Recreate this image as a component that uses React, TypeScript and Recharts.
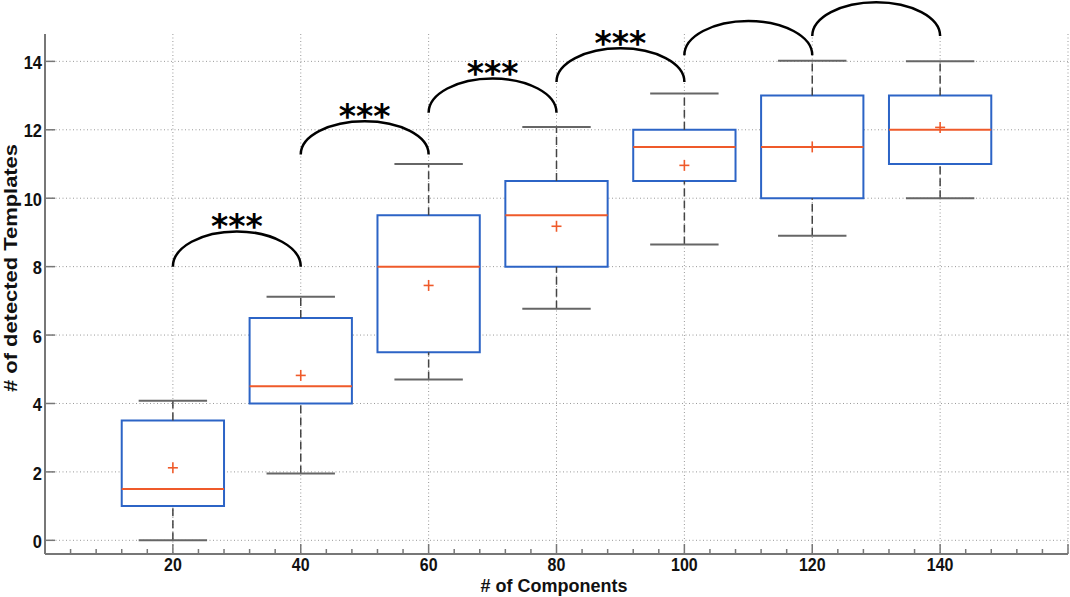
import React from 'react';
import {
  ComposedChart,
  XAxis,
  YAxis,
  CartesianGrid,
  ReferenceArea,
  ReferenceLine,
  Scatter,
} from 'recharts';

// ---------------- data ----------------
const categories = [20, 40, 60, 80, 100, 120, 140];
const whiskerLow = [0, 1.95, 4.7, 6.77, 8.65, 8.9, 10];
const q1 = [1, 4, 5.5, 8, 10.5, 10, 11];
const median = [1.5, 4.5, 8, 9.5, 11.5, 11.5, 12];
const q3 = [3.5, 6.5, 9.5, 10.5, 12, 13, 13];
const whiskerHigh = [4.08, 7.12, 11, 12.08, 13.06, 14.02, 14];
const means = [2.12, 4.82, 7.45, 9.18, 10.96, 11.5, 12.07];

const arcFrom = [20, 40, 60, 80, 100, 120];
const arcTo = [40, 60, 80, 100, 120, 140];
const arcBase = [8, 11.28, 12.5, 13.4, 14.18, 14.74];
const arcTop = [9.03, 12.25, 13.5, 14.38, 15.18, 15.73];
const arcMarks = ['***', '***', '***', '***', '', ''];

const xTicks = [0, 4, 8, 12, 16, 20, 24, 28, 32, 36, 40, 44, 48, 52, 56, 60, 64, 68, 72, 76, 80, 84, 88, 92, 96, 100, 104, 108, 112, 116, 120, 124, 128, 132, 136, 140, 144, 148, 152, 156, 160];
const xTickLabels = [20, 40, 60, 80, 100, 120, 140];
const xGridValues = [20, 40, 60, 80, 100, 120, 140, 160];
const yTicks = [0, 2, 4, 6, 8, 10, 12, 14];

const xLabel = '# of Components';
const yLabel = '# of detected Templates';

// ---------------- styles ----------------
const BOX_HALF = 8;
const CAP_HALF = 5.35;
const BOX_COLOR = '#2c64c6';
const MED_COLOR = '#ef5a2a';
const AXIS_COLOR = '#777';
const FONT = '"Liberation Sans", Arial, sans-serif';
const STRETCH = 1.15;

const meanData = categories.map((c, i) => ({ x: c, y: means[i] }));

const XTick = (props: any) => {
  const { x, y, payload } = props;
  const v = payload.value;
  const major = v % 20 === 0;
  return (
    <g>
      <line x1={x} x2={x} y1={y} y2={y - (major ? 10 : 5)} stroke={AXIS_COLOR} strokeWidth={1.5} />
      {xTickLabels.includes(v) && (
        <g transform={`translate(${x}, ${y + 10}) scale(1, ${STRETCH})`}>
          <text x={0} y={5.8} textAnchor="middle" fontFamily={FONT} fontWeight="bold" fontSize={16} fill="#111">
            {v}
          </text>
        </g>
      )}
    </g>
  );
};

const YTick = (props: any) => {
  const { x, y, payload } = props;
  return (
    <g>
      <line x1={x} x2={x + 10} y1={y} y2={y} stroke={AXIS_COLOR} strokeWidth={1.5} />
      <g transform={`translate(${x - 3}, ${y + 1}) scale(1, ${STRETCH})`}>
        <text x={0} y={5.8} textAnchor="end" fontFamily={FONT} fontWeight="bold" fontSize={16.5} fill="#111">
          {payload.value}
        </text>
      </g>
    </g>
  );
};

const MeanShape = (props: any) => {
  const { cx, cy } = props;
  return (
    <g>
      <line x1={cx - 5} x2={cx + 5} y1={cy} y2={cy} stroke={MED_COLOR} strokeWidth={1.6} />
      <line x1={cx} x2={cx} y1={cy - 5.5} y2={cy + 5.5} stroke={MED_COLOR} strokeWidth={1.6} />
    </g>
  );
};

const makeArcShape = (mark: string) => (props: any) => {
  const { x, y, width, height } = props;
  const bottom = y + height;
  const d = `M ${x} ${bottom} A ${width / 2} ${height} 0 0 1 ${x + width} ${bottom}`;
  return (
    <g>
      <path d={d} fill="none" stroke="#000" strokeWidth={2.5} />
      {mark && (
        <text
          x={x + width / 2}
          y={y + 7}
          textAnchor="middle"
          fontFamily='"DejaVu Sans", sans-serif'
          fontWeight="bold"
          fontSize={33}
          fill="#000"
        >
          {mark}
        </text>
      )}
    </g>
  );
};

export default function App() {
  return (
    <div style={{ position: 'absolute', left: 0, top: 0, width: 1070, height: 597, background: '#fff' }}>
      <ComposedChart width={1070} height={597} margin={{ top: 34, right: 2, bottom: 0, left: 0 }}>
        <CartesianGrid
          stroke="#999"
          strokeDasharray="1 2.5"
          horizontalValues={yTicks}
          verticalValues={xGridValues}
        />
        <XAxis
          dataKey="x"
          type="number"
          domain={[0, 160]}
          allowDataOverflow
          ticks={xTicks}
          interval={0}
          height={43}
          tickSize={0}
          tickMargin={0}
          tickLine={false}
          axisLine={{ stroke: AXIS_COLOR, strokeWidth: 2 }}
          tick={(p: any) => <XTick {...p} />}
        />
        <YAxis
          type="number"
          domain={[-0.4, 14.8]}
          allowDataOverflow
          ticks={yTicks}
          interval={0}
          width={45}
          tickSize={0}
          tickMargin={0}
          tickLine={false}
          axisLine={{ stroke: AXIS_COLOR, strokeWidth: 2 }}
          tick={(p: any) => <YTick {...p} />}
        />

        {/* whiskers */}
        {categories.map((c, i) => (
          <ReferenceLine
            key={`wl${i}`}
            segment={[{ x: c, y: whiskerLow[i] }, { x: c, y: q1[i] }]}
            stroke="#444"
            strokeWidth={1.5}
            strokeDasharray="8 4"
          />
        ))}
        {categories.map((c, i) => (
          <ReferenceLine
            key={`wh${i}`}
            segment={[{ x: c, y: q3[i] }, { x: c, y: whiskerHigh[i] }]}
            stroke="#444"
            strokeWidth={1.5}
            strokeDasharray="8 4"
          />
        ))}
        {categories.map((c, i) => (
          <ReferenceLine
            key={`cl${i}`}
            segment={[{ x: c - CAP_HALF, y: whiskerLow[i] }, { x: c + CAP_HALF, y: whiskerLow[i] }]}
            stroke="#666"
            strokeWidth={2}
          />
        ))}
        {categories.map((c, i) => (
          <ReferenceLine
            key={`ch${i}`}
            segment={[{ x: c - CAP_HALF, y: whiskerHigh[i] }, { x: c + CAP_HALF, y: whiskerHigh[i] }]}
            stroke="#666"
            strokeWidth={2}
          />
        ))}

        {/* boxes */}
        {categories.map((c, i) => (
          <ReferenceArea
            key={`bx${i}`}
            x1={c - BOX_HALF}
            x2={c + BOX_HALF}
            y1={q1[i]}
            y2={q3[i]}
            fill="#fff"
            fillOpacity={1}
            stroke={BOX_COLOR}
            strokeWidth={2}
          />
        ))}
        {categories.map((c, i) => (
          <ReferenceLine
            key={`md${i}`}
            segment={[{ x: c - BOX_HALF, y: median[i] }, { x: c + BOX_HALF, y: median[i] }]}
            stroke={MED_COLOR}
            strokeWidth={2}
          />
        ))}

        {/* significance arcs */}
        {arcFrom.map((a, i) => (
          <ReferenceArea
            key={`arc${i}`}
            x1={a}
            x2={arcTo[i]}
            y1={arcBase[i]}
            y2={arcTop[i]}
            ifOverflow="visible"
            shape={makeArcShape(arcMarks[i])}
          />
        ))}

        <Scatter data={meanData} dataKey="y" isAnimationActive={false} shape={(p: any) => <MeanShape {...p} />} />
      </ComposedChart>
      <svg width={1070} height={597} style={{ position: 'absolute', left: 0, top: 0, pointerEvents: 'none' }}>
        <text x={554} y={592} textAnchor="middle" fontFamily={FONT} fontWeight="bold" fontSize={18} fill="#111">
          {xLabel}
        </text>
        <text
          x={17}
          y={268}
          textAnchor="middle"
          transform="rotate(-90, 17, 268)"
          fontFamily={FONT}
          fontWeight="bold"
          fontSize={19}
          textLength={248}
          lengthAdjust="spacingAndGlyphs"
          fill="#111"
        >
          {yLabel}
        </text>
      </svg>
    </div>
  );
}
